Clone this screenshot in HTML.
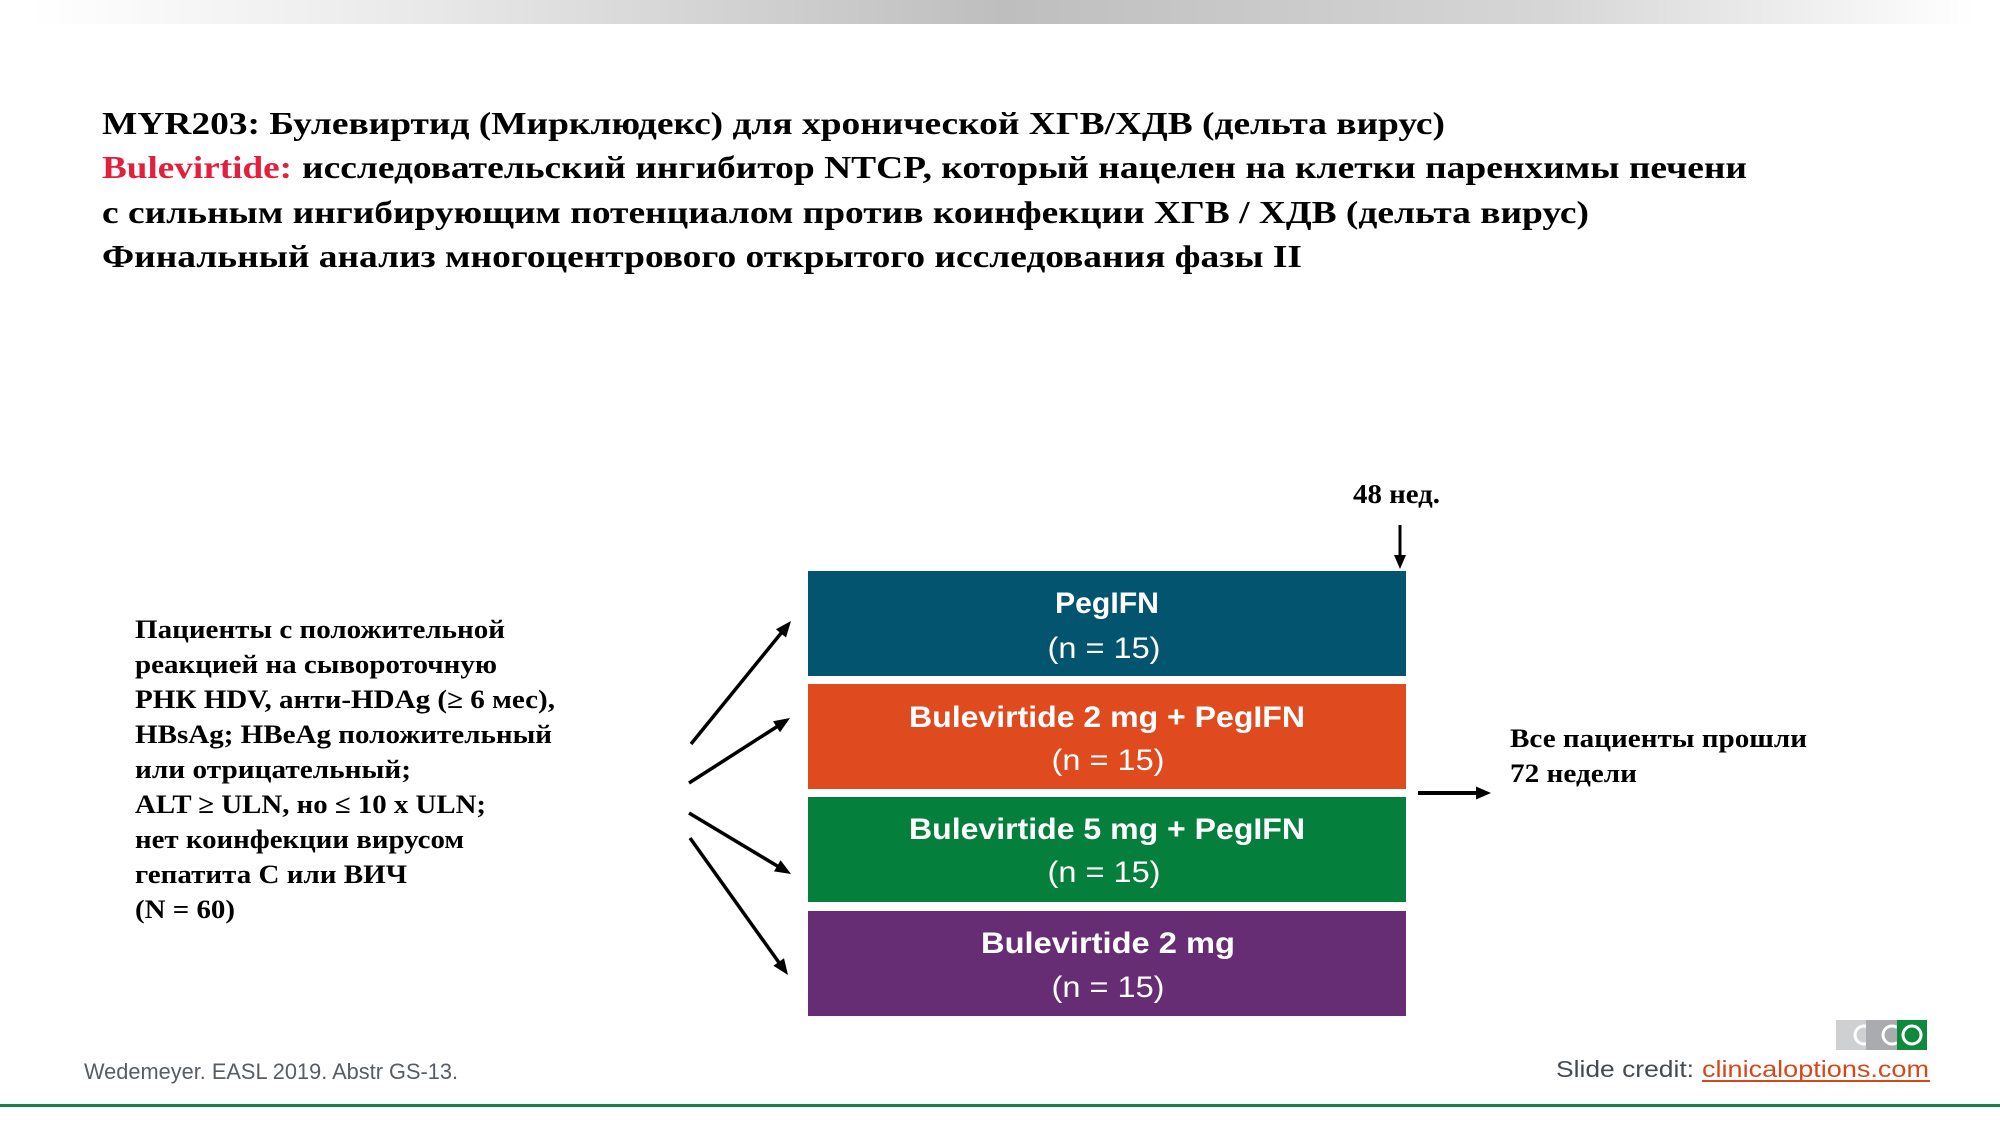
<!DOCTYPE html>
<html>
<head>
<meta charset="utf-8">
<style>
  html, body { margin:0; padding:0; background:#fff; }
  body { width:2000px; height:1125px; overflow:hidden; }
  svg { display:block; }
  .ser { font-family:"Liberation Serif","Noto Serif CJK SC",serif; font-weight:bold; }
  .san { font-family:"Liberation Sans","Noto Sans CJK SC",sans-serif; }
</style>
</head>
<body>
<svg width="2000" height="1125" viewBox="0 0 2000 1125" xmlns="http://www.w3.org/2000/svg">
  <defs>
    <linearGradient id="topbar" x1="0" y1="0" x2="1" y2="0">
      <stop offset="0" stop-color="#ffffff"/>
      <stop offset="0.2" stop-color="#e9e9e9"/>
      <stop offset="0.5" stop-color="#bebebe"/>
      <stop offset="0.78" stop-color="#d6d6d6"/>
      <stop offset="1" stop-color="#ffffff"/>
    </linearGradient>
  </defs>

  <!-- top gradient bar -->
  <rect x="30" y="0" width="1945" height="24" fill="url(#topbar)"/>

  <!-- Title -->
  <text class="ser" x="102" y="134" font-size="32" fill="#000" textLength="1343" lengthAdjust="spacingAndGlyphs">MYR203: Булевиртид (Мирклюдекс) для хронической ХГВ/ХДВ (дельта вирус)</text>
  <text class="ser" x="102" y="178" font-size="32" fill="#e21f3d" textLength="190" lengthAdjust="spacingAndGlyphs">Bulevirtide:</text>
  <text class="ser" x="302" y="178" font-size="32" fill="#000" textLength="1445" lengthAdjust="spacingAndGlyphs">исследовательский ингибитор NTCP, который нацелен на клетки паренхимы печени</text>
  <text class="ser" x="102" y="223" font-size="32" fill="#000" textLength="1487" lengthAdjust="spacingAndGlyphs">с сильным ингибирующим потенциалом против коинфекции ХГВ / ХДВ (дельта вирус)</text>
  <text class="ser" x="102" y="267" font-size="32" fill="#000" textLength="1200" lengthAdjust="spacingAndGlyphs">Финальный анализ многоцентрового открытого исследования фазы II</text>

  <!-- Left criteria text -->
  <g class="ser" font-size="26" fill="#000">
    <text x="135" y="638" textLength="370" lengthAdjust="spacingAndGlyphs">Пациенты с положительной</text>
    <text x="135" y="673" textLength="362" lengthAdjust="spacingAndGlyphs">реакцией на сывороточную</text>
    <text x="135" y="708" textLength="420" lengthAdjust="spacingAndGlyphs">РНК HDV, анти-HDAg (≥ 6 мес),</text>
    <text x="135" y="743" textLength="417" lengthAdjust="spacingAndGlyphs">HBsAg; HBeAg положительный</text>
    <text x="135" y="778" textLength="276" lengthAdjust="spacingAndGlyphs">или отрицательный;</text>
    <text x="135" y="813" textLength="351" lengthAdjust="spacingAndGlyphs">ALT ≥ ULN, но ≤ 10 x ULN;</text>
    <text x="135" y="848" textLength="329" lengthAdjust="spacingAndGlyphs">нет коинфекции вирусом</text>
    <text x="135" y="883" textLength="272" lengthAdjust="spacingAndGlyphs">гепатита С или ВИЧ</text>
    <text x="135" y="918" textLength="100" lengthAdjust="spacingAndGlyphs">(N = 60)</text>
  </g>

  <!-- Randomization arrows -->
  <g stroke="#000" stroke-width="3.5" fill="none" stroke-linecap="butt">
    <line x1="691" y1="744" x2="782" y2="632"/>
    <line x1="689" y1="783" x2="778" y2="726"/>
    <line x1="689" y1="813" x2="779" y2="867"/>
    <line x1="690" y1="838" x2="780" y2="964"/>
  </g>
  <g fill="#000">
    <polygon points="791,621 786,637.5 775.9,629.3"/>
    <polygon points="790,718 780,732.2 773,721.2"/>
    <polygon points="791,874 774,871.4 780.6,860.2"/>
    <polygon points="788,975 773.4,965.8 784,958.2"/>
  </g>

  <!-- Arms -->
  <rect x="808" y="571" width="598" height="105" fill="#03546f"/>
  <rect x="808" y="684" width="598" height="105" fill="#df4a1f"/>
  <rect x="808" y="797" width="598" height="105" fill="#05803c"/>
  <rect x="808" y="911" width="598" height="105" fill="#672d74"/>

  <g class="san" fill="#fff" text-anchor="middle" font-size="30">
    <text x="1107" y="613" font-weight="bold" textLength="104" lengthAdjust="spacingAndGlyphs">PegIFN</text>
    <text x="1104" y="658" textLength="113" lengthAdjust="spacingAndGlyphs">(n = 15)</text>
    <text x="1107" y="727" font-weight="bold" textLength="396" lengthAdjust="spacingAndGlyphs">Bulevirtide 2 mg + PegIFN</text>
    <text x="1108" y="770" textLength="113" lengthAdjust="spacingAndGlyphs">(n = 15)</text>
    <text x="1107" y="839" font-weight="bold" textLength="396" lengthAdjust="spacingAndGlyphs">Bulevirtide 5 mg + PegIFN</text>
    <text x="1104" y="882" textLength="113" lengthAdjust="spacingAndGlyphs">(n = 15)</text>
    <text x="1108" y="953" font-weight="bold" textLength="254" lengthAdjust="spacingAndGlyphs">Bulevirtide 2 mg</text>
    <text x="1108" y="997" textLength="113" lengthAdjust="spacingAndGlyphs">(n = 15)</text>
  </g>

  <!-- 48 weeks marker -->
  <text class="ser" x="1353" y="503" font-size="27" fill="#000" textLength="87" lengthAdjust="spacingAndGlyphs">48 нед.</text>
  <line x1="1400" y1="525" x2="1400" y2="557" stroke="#000" stroke-width="3"/>
  <polygon points="1394,555 1406,555 1400,569" fill="#000"/>

  <!-- right arrow -->
  <line x1="1418" y1="793" x2="1478" y2="793" stroke="#000" stroke-width="4"/>
  <polygon points="1476,786.5 1476,799.5 1491,793" fill="#000"/>

  <text class="ser" x="1510" y="747" font-size="26" fill="#000" textLength="297" lengthAdjust="spacingAndGlyphs">Все пациенты прошли</text>
  <text class="ser" x="1510" y="782" font-size="26" fill="#000" textLength="127" lengthAdjust="spacingAndGlyphs">72 недели</text>

  <!-- CCO logo -->
  <rect x="1836" y="1020" width="30" height="30" fill="#cfd0d2"/>
  <path d="M1869,1027.5 A9,9 0 1 0 1869,1042.5" fill="none" stroke="#fff" stroke-width="3"/>
  <rect x="1866" y="1020" width="31" height="30" fill="#a9abae"/>
  <path d="M1897,1027.5 A9,9 0 1 0 1897,1042.5" fill="none" stroke="#fff" stroke-width="3"/>
  <rect x="1897" y="1020" width="30" height="30" fill="#0d8a3e"/>
  <circle cx="1912" cy="1035" r="9" fill="none" stroke="#fff" stroke-width="3"/>

  <!-- footer -->
  <text class="san" x="84" y="1079" font-size="22" fill="#575d64" textLength="374" lengthAdjust="spacingAndGlyphs">Wedemeyer. EASL 2019. Abstr GS-13.</text>
  <text class="san" x="1556" y="1077" font-size="23" fill="#444b52" textLength="138" lengthAdjust="spacingAndGlyphs">Slide credit:</text>
  <text class="san" x="1702" y="1077" font-size="23" fill="#d4491c" textLength="227" lengthAdjust="spacingAndGlyphs">clinicaloptions.com</text>
  <rect x="1702" y="1080" width="228" height="2" fill="#d4491c"/>

  <rect x="0" y="1104" width="2000" height="3" fill="#17804a"/>
</svg>
</body>
</html>
